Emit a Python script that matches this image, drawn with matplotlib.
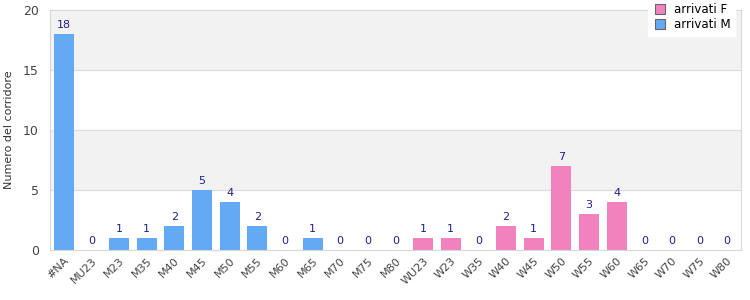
import numpy as np
import matplotlib.pyplot as plt
from matplotlib.lines import Line2D

categorie = ['#NA', 'MU23', 'M23', 'M35', 'M40', 'M45', 'M50', 'M55', 'M60', 'M65',
             'M70', 'M75', 'M80', 'WU23', 'W23', 'W35', 'W40', 'W45', 'W50', 'W55',
             'W60', 'W65', 'W70', 'W75', 'W80']
arrivati_m = [18, 0, 1, 1, 2, 5, 4, 2, 0, 1, 0, 0, 0]
arrivati_f = [1, 1, 0, 2, 1, 7, 3, 4, 0, 0, 0, 0]

col_m = '#63a9f3'
col_f = '#f282be'
col_lab = '#1f1f8f'

fig = plt.figure(figsize=(7.5, 3), dpi=100)
ax = fig.add_axes([0.0667, 0.1667, 0.9213, 0.8])

x = np.arange(len(categorie))
xm = x[:len(arrivati_m)]
xf = x[len(arrivati_m):]

# bande alternate
for lo, hi in [(5, 10), (15, 20)]:
    ax.axhspan(lo, hi, color='#f2f2f2', zorder=0)
for y in [5, 10, 15]:
    ax.axhline(y, color='#dddddd', lw=0.8, zorder=0.5)

ax.bar(xm, arrivati_m, width=0.72, color=col_m, zorder=2)
ax.bar(xf, arrivati_f, width=0.72, color=col_f, zorder=2)

for xi, v in zip(xm, arrivati_m):
    ax.text(xi, v + 0.35, str(v), ha='center', va='bottom', fontsize=8, color=col_lab)
for xi, v in zip(xf, arrivati_f):
    ax.text(xi, v + 0.35, str(v), ha='center', va='bottom', fontsize=8, color=col_lab)

ax.set_xlim(-0.5, len(categorie) - 0.5)
ax.set_ylim(0, 20)
ax.set_yticks([0, 5, 10, 15, 20])
ax.set_xticks(x)
ax.set_xticklabels(categorie, rotation=45, ha='right', rotation_mode='anchor', fontsize=8, color='#444444')
ax.tick_params(axis='y', labelsize=9, colors='#444444', length=0, pad=8)
ax.tick_params(axis='x', length=0, pad=4)
ax.set_ylabel('Numero del corridore', fontsize=8, color='#333333')
ax.yaxis.set_label_coords(-0.052, 0.5)

for s in ax.spines.values():
    s.set_color('#d8d8d8')

handles = [
    Line2D([], [], marker='s', linestyle='', markersize=7, markerfacecolor=col_f, markeredgecolor='#666666', markeredgewidth=0.8, label='arrivati F'),
    Line2D([], [], marker='s', linestyle='', markersize=7, markerfacecolor=col_m, markeredgecolor='#666666', markeredgewidth=0.8, label='arrivati M'),
]
fig.legend(handles=handles, loc='upper right', bbox_to_anchor=(0.988, 1.025), fontsize=8.5,
           frameon=True, fancybox=False, framealpha=1, edgecolor='white',
           handletextpad=0.6, borderpad=0.4, labelspacing=0.2, handlelength=1.2)

fig.savefig('out.png', dpi=100)
